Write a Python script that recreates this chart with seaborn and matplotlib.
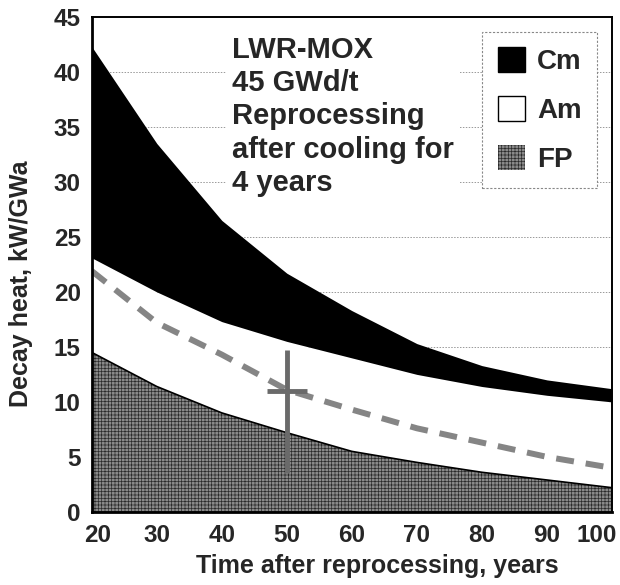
import numpy as np
import pandas as pd
import matplotlib
matplotlib.use("Agg")
import matplotlib.pyplot as plt
import matplotlib.transforms as mtransforms
from matplotlib.patches import Patch
import seaborn as sns

# datos (kW/GWa)
anios = [20, 30, 40, 50, 60, 70, 80, 90, 100]
fp = [14.5, 11.4, 9.0, 7.2, 5.5, 4.5, 3.6, 2.9, 2.2]
fp_am = [23.1, 20.0, 17.3, 15.5, 14.0, 12.5, 11.4, 10.6, 10.0]
total = [42.3, 33.5, 26.5, 21.7, 18.3, 15.3, 13.3, 12.0, 11.2]
linea_trazos = [21.9, 17.2, 14.3, 11.1, 9.3, 7.6, 6.3, 5.0, 4.0]

# punto con barras de error
punto_x = 50
punto_y = 11.0
error_x = 3.1
error_y = [7.5, 3.7]  # abajo, arriba

etiquetas = ["Cm", "Am", "FP"]
texto = "LWR-MOX\n45 GWd/t\nReprocessing\nafter cooling for\n4 years"

df = pd.DataFrame({"t": anios, "fp": fp, "fp_am": fp_am,
                   "total": total, "trazos": linea_trazos})

sns.set_theme(style="white")
plt.rcParams["font.family"] = ["Liberation Sans", "DejaVu Sans"]
plt.rcParams["font.weight"] = "bold"
plt.rcParams["hatch.linewidth"] = 0.5

fig = plt.figure(figsize=(6.2, 5.85), dpi=100)
ax = fig.add_axes([0.148, 0.125, 0.839, 0.846])

gris_fp = "#8a8a8a"
trama = "+++++"

# rejilla
for v in range(5, 45, 5):
    ax.axhline(v, color="#999999", lw=0.7, ls=(0, (1.5, 1.5)), zorder=0)

ax.fill_between(df["t"], df["fp_am"], df["total"], color="black", lw=0, zorder=2)
ax.fill_between(df["t"], df["fp"], df["fp_am"], color="white", lw=0, zorder=1)
ax.fill_between(df["t"], 0, df["fp"], facecolor=gris_fp, edgecolor="#2a2a2a",
                hatch=trama, lw=0, zorder=2)

sns.lineplot(data=df, x="t", y="fp", color="black", lw=1.2, ax=ax, zorder=3)
sns.lineplot(data=df, x="t", y="trazos", color="#858585", lw=4.3, ax=ax,
             dashes=False, zorder=4).lines[-1].set_dashes((3.0, 2.0))

ax.errorbar([punto_x], [punto_y], xerr=[[error_x], [error_x]],
            yerr=[[error_y[0]], [error_y[1]]], fmt="none",
            ecolor="#6a6a6a", elinewidth=3.5, capsize=0, zorder=5)

ax.set_xlim(20, 100)
ax.set_ylim(0, 45)
ax.set_xticks(range(20, 101, 10))
ax.set_yticks(range(0, 46, 5))
ax.tick_params(axis="both", labelsize=17.5, direction="in", length=3, width=0.8)
ax.tick_params(axis="x", pad=9)
ax.tick_params(axis="y", pad=8)
for lab in ax.get_xticklabels() + ax.get_yticklabels():
    lab.set_fontweight("bold")

# las etiquetas de los extremos quedan dentro del eje
etiq_x = ax.get_xticklabels()
etiq_x[0].set_transform(etiq_x[0].get_transform() +
                        mtransforms.ScaledTranslation(0.06, 0, fig.dpi_scale_trans))
etiq_x[-1].set_transform(etiq_x[-1].get_transform() +
                         mtransforms.ScaledTranslation(-0.15, 0, fig.dpi_scale_trans))

ax.set_xlabel("Time after reprocessing, years", fontsize=18, fontweight="bold")
ax.set_ylabel("Decay heat, kW/GWa", fontsize=18, fontweight="bold")
ax.xaxis.set_label_coords(0.548, -0.085)
ax.yaxis.set_label_coords(-0.113, 0.46)

for lado in ["left", "bottom"]:
    ax.spines[lado].set_linewidth(2.0)
for lado in ["top", "right"]:
    ax.spines[lado].set_linewidth(1.4)
for s in ax.spines.values():
    s.set_color("black")
    s.set_zorder(6)

ax.text(0.269, 0.962, texto, transform=ax.transAxes, ha="left", va="top",
        fontsize=21, fontweight="bold", linespacing=1.24, zorder=6,
        bbox=dict(facecolor="white", edgecolor="none", pad=4))

manejadores = [
    Patch(facecolor="black", edgecolor="black", label=etiquetas[0]),
    Patch(facecolor="white", edgecolor="black", lw=1.0, label=etiquetas[1]),
    Patch(facecolor=gris_fp, edgecolor="#2a2a2a", hatch=trama, lw=0, label=etiquetas[2]),
]
leg = ax.legend(handles=manejadores, loc="upper right", bbox_to_anchor=(0.971, 0.97),
                prop={"size": 20, "weight": "bold"}, handlelength=1.0, handleheight=1.0,
                handletextpad=0.42, labelspacing=0.75, borderpad=0.55, borderaxespad=0,
                fancybox=False, framealpha=1)
leg.get_frame().set_edgecolor("#888888")
leg.get_frame().set_linestyle((0, (2, 1.5)))
leg.get_frame().set_linewidth(0.8)
leg.set_zorder(7)

fig.savefig("out.png", dpi=100)
